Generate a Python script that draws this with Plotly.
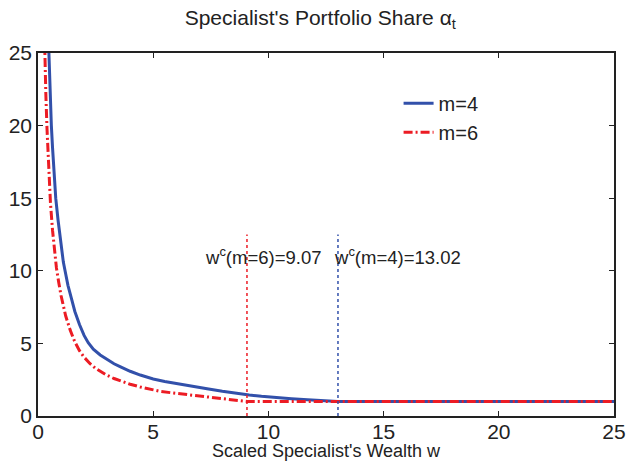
import plotly.graph_objects as go

# m=4 (blue, solid)
w_m4 = [0.42, 0.45, 0.47, 0.52, 0.58, 0.63, 0.68, 0.77, 0.87, 0.98, 1.1, 1.2, 1.3, 1.45, 1.6, 1.8,
        2.0, 2.18, 2.4, 2.7, 3.0, 3.3, 3.56, 4.0, 4.44, 5.0, 5.5, 6.0, 6.6, 7.34, 8.0, 8.6, 9.17,
        9.7, 10.25, 11.0, 11.7, 12.3, 12.7, 13.02, 25]
a_m4 = [27.5, 25.8, 25.0, 22.5, 20.0, 18.5, 17.2, 15.0, 13.5, 12.1, 10.6, 9.8, 9.0, 8.1, 7.2, 6.3,
        5.55, 5.05, 4.6, 4.2, 3.87, 3.6, 3.4, 3.08, 2.82, 2.55, 2.38, 2.23, 2.06, 1.87, 1.70, 1.56, 1.45,
        1.36, 1.27, 1.19, 1.12, 1.06, 1.025, 1.0, 1.0]

# m=6 (red, dash-dot)
w_m6 = [0.27, 0.29, 0.34, 0.39, 0.46, 0.54, 0.63, 0.70, 0.80, 0.9, 1.0, 1.2, 1.4, 1.6, 1.8, 2.0,
        2.25, 2.5, 2.75, 3.0, 3.3, 3.6, 4.0, 4.44, 4.9, 5.3, 5.89, 6.6, 7.34, 7.8, 8.2, 8.7, 9.07, 25]
a_m6 = [27.0, 25.2, 22.2, 19.8, 17.0, 14.7, 12.8, 11.6, 10.2, 9.2, 8.3, 6.9, 5.9, 5.1, 4.5, 4.05,
        3.62, 3.28, 3.02, 2.8, 2.58, 2.39, 2.19, 2.0, 1.84, 1.70, 1.58, 1.44, 1.29, 1.2, 1.14, 1.06, 1.0, 1.0]

wc_m6 = 9.07
wc_m4 = 13.02
vline_top = 12.5

x_ticks = [0, 5, 10, 15, 20, 25]
y_ticks = [0, 5, 10, 15, 20, 25]

BLUE = "rgb(50,80,170)"
RED = "rgb(236,28,36)"
TXT = "#222"
FONT = "Liberation Sans, Arial, sans-serif"

fig = go.Figure()
fig.add_trace(go.Scatter(x=w_m4, y=a_m4, mode="lines", name="m=4", legendgroup="a",
                         line=dict(color=BLUE, width=3)))
fig.add_trace(go.Scatter(x=w_m6, y=a_m6, mode="lines", name="m=6", legendgroup="b",
                         line=dict(color=RED, width=3, dash="9px,3px,2px,3px")))
fig.add_trace(go.Scatter(x=[wc_m6, wc_m6], y=[0, vline_top], mode="lines", showlegend=False,
                         line=dict(color=RED, width=1.5, dash="dot")))
fig.add_trace(go.Scatter(x=[wc_m4, wc_m4], y=[0, vline_top], mode="lines", showlegend=False,
                         line=dict(color=BLUE, width=1.5, dash="dot")))

fig.add_annotation(x=9.76, y=11.0, text="w<sup>c</sup>(m=6)=9.07", showarrow=False,
                   font=dict(size=18.5, color=TXT, family=FONT))
fig.add_annotation(x=15.6, y=11.0, text="w<sup>c</sup>(m=4)=13.02", showarrow=False,
                   font=dict(size=18.5, color=TXT, family=FONT))

fig.update_layout(
    width=628, height=461,
    margin=dict(l=38, r=14, t=53, b=45, autoexpand=False),
    paper_bgcolor="white", plot_bgcolor="white",
    font=dict(family=FONT, color=TXT),
    title=dict(text="Specialist's Portfolio Share α<sub>t</sub>", x=0.51, xanchor="center",
               y=0.962, yanchor="middle", font=dict(size=21, family=FONT, color=TXT)),
    legend=dict(x=0.626, y=0.915, xanchor="left", yanchor="top", bgcolor="rgba(0,0,0,0)",
                font=dict(size=20, family=FONT, color=TXT), traceorder="grouped", tracegroupgap=0),
)
fig.update_xaxes(range=[0, 25], tickvals=x_ticks, showgrid=False, zeroline=False, automargin=False,
                 showline=True, linecolor=TXT, linewidth=1.5, mirror="ticks",
                 ticks="inside", ticklen=5, tickcolor=TXT, ticklabelstandoff=-4,
                 tickfont=dict(size=21, family=FONT, color=TXT),
                 title=dict(text="Scaled Specialist's Wealth w", standoff=0,
                            font=dict(size=18, family=FONT, color=TXT)))
fig.update_yaxes(range=[0, 25], tickvals=y_ticks, showgrid=False, zeroline=False, automargin=False,
                 showline=True, linecolor=TXT, linewidth=1.5, mirror="ticks",
                 ticks="inside", ticklen=5, tickcolor=TXT,
                 tickfont=dict(size=21, family=FONT, color=TXT))

fig.write_html("out.html")
